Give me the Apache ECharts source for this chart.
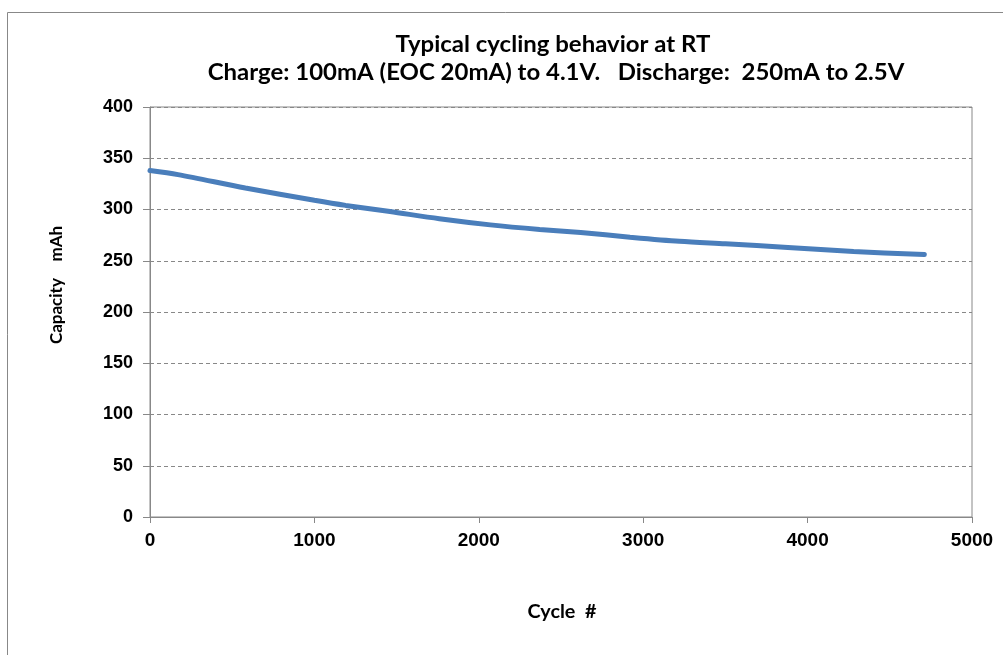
<!DOCTYPE html>
<html>
<head>
<meta charset="utf-8">
<script src="https://cdn.jsdelivr.net/npm/echarts@6/dist/echarts.min.js"></script>
<style>
html,body{margin:0;padding:0;background:#fff;}
#chart{width:1003px;height:655px;}
</style>
</head>
<body>
<div id="chart"></div>
<script>
var titleLines = ['Typical cycling behavior at RT', 'Charge: 100mA (EOC 20mA) to 4.1V.   Discharge:  250mA to 2.5V'];
var xAxisTitle = 'Cycle  #';
var yAxisTitle = 'Capacity    mAh';
var cycles     = [0,   170, 580, 1000, 1190, 1460, 1760, 2070, 2370, 2620, 2920, 3220, 3500, 3880, 4280, 4710];
var capacity   = [338, 334, 321, 309,  304,  298,  291,  285,  280.5, 277.5, 273,  269,  266.5, 263, 259, 256];

var pts = cycles.map(function (c, i) { return [c, capacity[i]]; });

var chart = echarts.init(document.getElementById('chart'), null, {renderer: 'canvas'});
chart.setOption({
  animation: false,
  backgroundColor: '#fff',
  textStyle: {fontFamily: 'Liberation Sans'},
  graphic: [
    {type: 'rect', shape: {x: 7.5, y: 12.5, width: 1100, height: 700}, style: {fill: 'none', stroke: '#888', lineWidth: 1}, z: -1},
    {type: 'text', x: 553, y: 45, scaleX: 1.09, style: {text: titleLines[0], x: 0, y: 0, textAlign: 'center', textVerticalAlign: 'middle', font: 'bold 22px Lato', fill: '#000'}},
    {type: 'text', x: 556, y: 73, scaleX: 1.09, style: {text: titleLines[1], x: 0, y: 0, textAlign: 'center', textVerticalAlign: 'middle', font: 'bold 22px Lato', fill: '#000'}},
    {type: 'text', rotation: Math.PI / 2, x: 57, y: 285, style: {text: yAxisTitle, x: 0, y: 0, textAlign: 'center', textVerticalAlign: 'middle', font: 'bold 17px Lato', fill: '#000'}},
    {type: 'text', x: 562, y: 612, scaleX: 1.1, style: {text: xAxisTitle, x: 0, y: 0, textAlign: 'center', textVerticalAlign: 'middle', font: 'bold 18px Lato', fill: '#000'}}
  ],
  grid: {left: 150, right: 31, top: 107, bottom: 138, show: true, borderColor: '#888', borderWidth: 1, backgroundColor: '#fff'},
  xAxis: {
    type: 'value', min: 0, max: 5000, interval: 1000,
    axisLine: {show: true, onZero: false, lineStyle: {color: '#888', width: 1}},
    axisTick: {show: true, inside: false, length: 6, lineStyle: {color: '#888'}},
    axisLabel: {margin: 14, color: '#000', fontWeight: 'bold', fontSize: 19, fontFamily: 'Liberation Sans', formatter: function (v) { return String(v); }},
    splitLine: {show: false}
  },
  yAxis: {
    type: 'value', min: 0, max: 400, interval: 50,
    axisLine: {show: true, onZero: false, lineStyle: {color: '#888', width: 1}},
    axisTick: {show: true, inside: false, length: 7, lineStyle: {color: '#888'}},
    axisLabel: {margin: 17, color: '#000', fontWeight: 'bold', fontSize: 18, fontFamily: 'Liberation Sans'},
    splitLine: {show: true, lineStyle: {color: '#888', type: [4, 3], width: 1}}
  },
  series: [{
    type: 'line',
    data: pts,
    smooth: 0.3,
    showSymbol: false,
    lineStyle: {color: '#4a7ebb', width: 5, cap: 'round'},
    itemStyle: {color: '#4a7ebb'}
  }]
});
</script>
</body>
</html>
